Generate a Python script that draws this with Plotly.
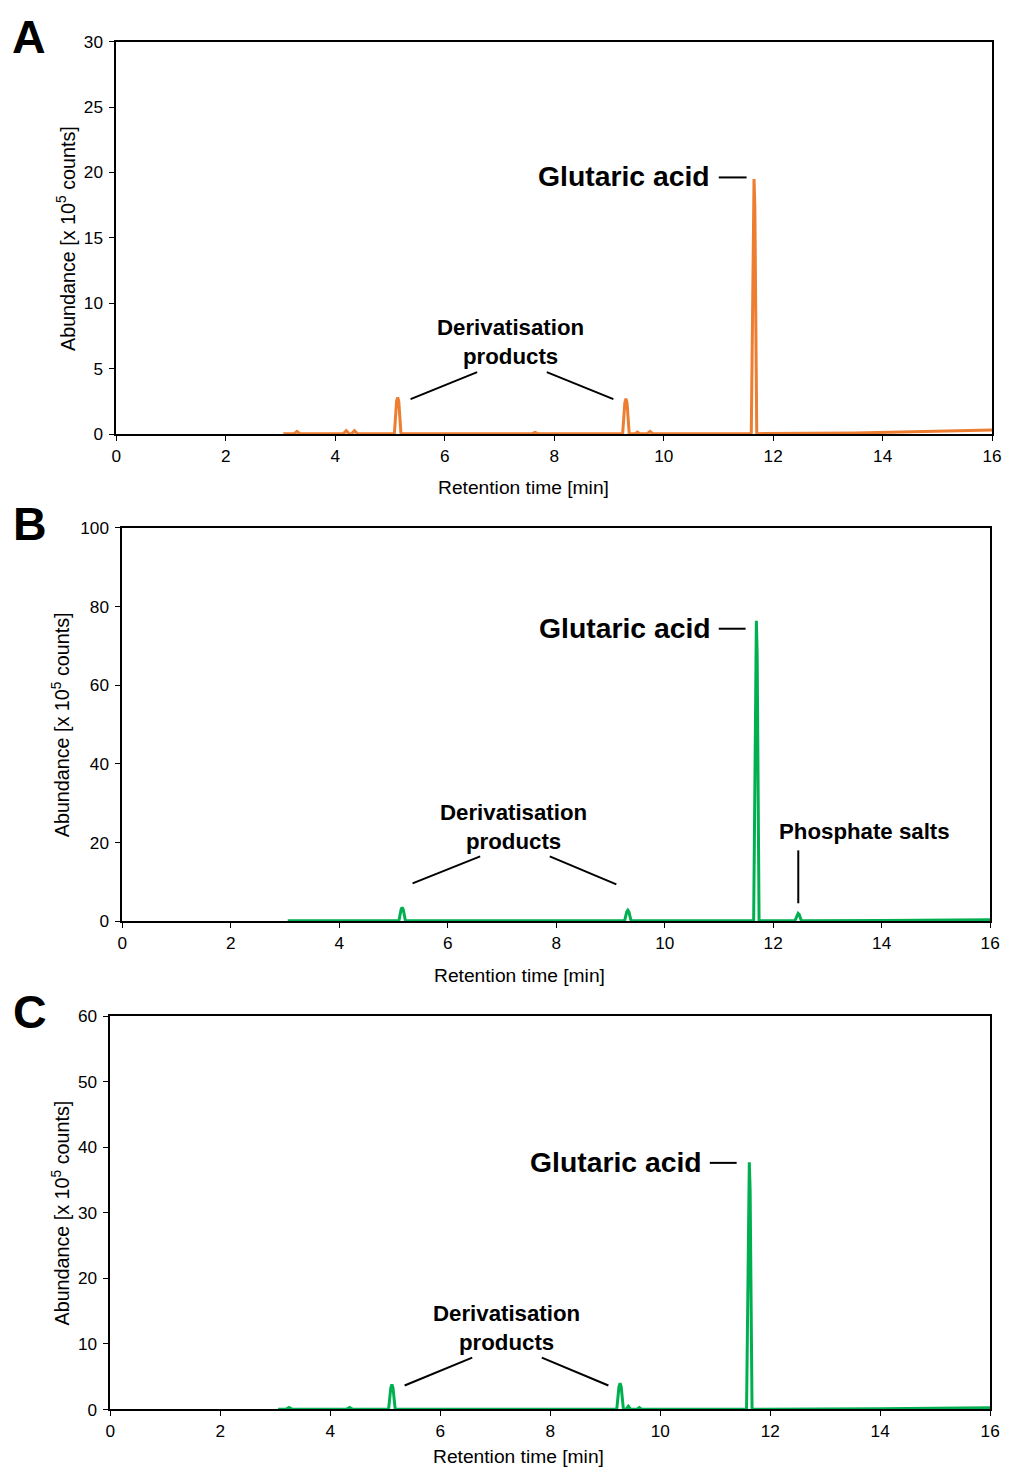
import plotly.graph_objects as go

W, H = 1009, 1475

# ---- Chromatogram data (retention time in min, abundance in 10^5 counts) ----
time_a = [3.05, 3.25, 3.3, 3.35, 4.1, 4.15, 4.2, 4.25, 4.3, 4.35, 4.4, 5.08, 5.12, 5.14, 5.16, 5.2,
          7.6, 7.65, 7.7, 9.25, 9.29, 9.31, 9.33, 9.37, 9.48, 9.52, 9.56, 9.7, 9.75, 9.8,
          11.6, 11.635, 11.65, 11.665, 11.7, 13.5, 15.0, 16.0]
abund_a = [0.03, 0.03, 0.2, 0.03, 0.03, 0.03, 0.25, 0.03, 0.03, 0.25, 0.03, 0.03, 2.5, 2.8, 2.5, 0.03,
           0.03, 0.12, 0.03, 0.03, 2.4, 2.7, 2.4, 0.03, 0.03, 0.15, 0.03, 0.03, 0.2, 0.03,
           0.03, 17.5, 19.5, 17.5, 0.03, 0.08, 0.2, 0.3]

time_b = [3.05, 4.0, 5.1, 5.14, 5.16, 5.18, 5.22, 7.0, 9.26, 9.3, 9.32, 9.34, 9.38,
          11.64, 11.675, 11.69, 11.705, 11.74, 12.4, 12.44, 12.46, 12.48, 12.52, 14.0, 16.0]
abund_b = [0.1, 0.1, 0.1, 3.0, 3.5, 3.0, 0.1, 0.1, 0.1, 2.4, 2.8, 2.4, 0.1,
           0.1, 68.0, 76.4, 68.0, 0.1, 0.1, 1.7, 2.0, 1.7, 0.1, 0.2, 0.4]

time_c = [3.05, 3.2, 3.25, 3.3, 4.3, 4.35, 4.4, 5.06, 5.1, 5.12, 5.14, 5.18, 7.0,
          9.21, 9.25, 9.27, 9.29, 9.33, 9.38, 9.42, 9.46, 9.58, 9.62, 9.66,
          11.57, 11.605, 11.62, 11.635, 11.67, 14.0, 16.0]
abund_c = [0.05, 0.05, 0.3, 0.05, 0.05, 0.3, 0.05, 0.05, 3.3, 3.8, 3.3, 0.05, 0.05,
           0.05, 3.5, 4.0, 3.5, 0.05, 0.05, 0.5, 0.05, 0.05, 0.3, 0.05,
           0.05, 33.5, 37.7, 33.5, 0.05, 0.1, 0.25]

x_ticks = [0, 2, 4, 6, 8, 10, 12, 14, 16]
y_ranges = {"A": [0, 30], "B": [0, 100], "C": [0, 60]}
y_dticks = {"A": 5, "B": 20, "C": 10}

ORANGE = "#ED7D31"
GREEN = "#00B050"
FONT = "Arial, Liberation Sans, sans-serif"

# the page is shown slightly inset and scaled; layout positions below are in
# on-screen pixels and converted back to figure pixels here
SX, OX = 0.991, 2.0
SY, OY = 0.988, 8.3


def px(x):
    return ((x - OX) / SX) / W


def py(y):
    return 1 - ((y - OY) / SY) / H


def fs(size):
    return size / SY


# plot-area screen-pixel boxes: (left, right, top, bottom)
boxes = {"A": (114, 995, 40, 433), "B": (120, 993, 527, 921), "C": (108, 993, 1016, 1410)}
series = {"A": (time_a, abund_a, ORANGE), "B": (time_b, abund_b, GREEN), "C": (time_c, abund_c, GREEN)}

fig = go.Figure()
layout_axes = {}
for i, key in enumerate(["A", "B", "C"]):
    n = "" if i == 0 else str(i + 1)
    l, r, t, b = boxes[key]
    tx, ty, col = series[key]
    fig.add_trace(go.Scatter(x=tx, y=ty, mode="lines", line=dict(color=col, width=3),
                             xaxis="x" + n, yaxis="y" + n, showlegend=False, hoverinfo="skip"))
    common = dict(showline=True, linecolor="black", linewidth=1.8, mirror=True, ticks="outside",
                  ticklen=5, tickwidth=1.4, tickcolor="black", showgrid=False, zeroline=False,
                  ticklabeloverflow="allow",
                  tickfont=dict(family=FONT, size=fs(17), color="black"))
    layout_axes["xaxis" + n] = dict(domain=[px(l), px(r)], range=[0, 16], tickvals=x_ticks,
                                    anchor="y" + n, **common)
    layout_axes["yaxis" + n] = dict(domain=[py(b), py(t)], range=y_ranges[key], dtick=y_dticks[key],
                                    anchor="x" + n, ticklabelstandoff=3, **common)

annotations = []
shapes = []


def text(x, y, s, size, bold=True, angle=0):
    annotations.append(dict(x=px(x), y=py(y), xref="paper", yref="paper", text=s, showarrow=False,
                            textangle=angle, xanchor="center", yanchor="middle",
                            font=dict(family=FONT, size=fs(size), color="black",
                                      weight="bold" if bold else "normal")))


def seg(x0, y0, x1, y1):
    shapes.append(dict(type="line", xref="paper", yref="paper", x0=px(x0), y0=py(y0), x1=px(x1), y1=py(y1),
                       line=dict(color="black", width=2)))


# panel letters
text(26, 35, "A", 46)
text(27, 523, "B", 46)
text(27, 1012, "C", 46)

# axis titles
for xc, yc in [(524, 487), (520, 975), (519, 1457)]:
    text(xc, yc, "Retention time [min]", 19, bold=False)
for xc, yc in [(63, 237), (58, 724), (58, 1213)]:
    text(xc, yc, "Abundance [x 10<sup>5</sup> counts]", 19.5, bold=False, angle=-90)

# peak labels
text(625, 175, "Glutaric acid", 28)
seg(720, 176, 748, 176)
text(511, 341, "Derivatisation<br>products", 22)
seg(410, 398, 477, 371)
seg(547, 371, 614, 398)

text(626, 627, "Glutaric acid", 28)
seg(720, 628, 747, 628)
text(514, 827, "Derivatisation<br>products", 22)
seg(412, 883, 480, 856)
seg(550, 856, 617, 884)
text(867, 831, "Phosphate salts", 22)
seg(800, 850, 800, 903)

text(617, 1162, "Glutaric acid", 28)
seg(711, 1163, 738, 1163)
text(506, 1328, "Derivatisation<br>products", 22)
seg(404, 1386, 472, 1358)
seg(542, 1358, 609, 1386)

fig.update_layout(width=W, height=H, margin=dict(l=0, r=0, t=0, b=0), plot_bgcolor="white",
                  paper_bgcolor="white", annotations=annotations, shapes=shapes, **layout_axes)

fig.write_html("out.html")
